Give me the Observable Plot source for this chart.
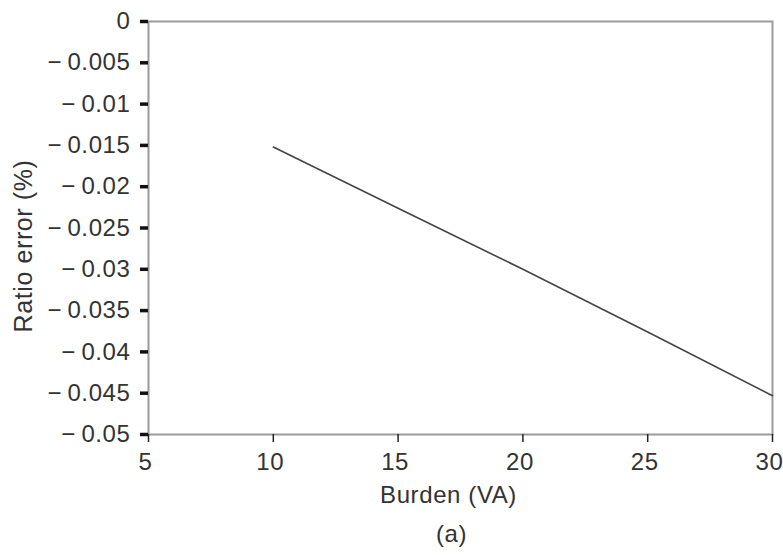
<!DOCTYPE html>
<html><head><meta charset="utf-8">
<script src="https://cdn.jsdelivr.net/npm/d3@7"></script>
<script src="https://cdn.jsdelivr.net/npm/@observablehq/plot@0.6"></script>
<style>body{margin:0;background:#fff} svg{display:block}</style>
</head><body><div id="chart"></div>
<script>
const burden = [10, 15, 20, 25, 30];
const ratioError = [-0.0152, -0.0226, -0.0300, -0.0376, -0.0453];
const xTicks = [5, 10, 15, 20, 25, 30];
const yTicks = [0, -0.005, -0.01, -0.015, -0.02, -0.025, -0.03, -0.035, -0.04, -0.045, -0.05];
const yTickLabels = ["0", "−\u20090.005", "−\u20090.01", "−\u20090.015", "−\u20090.02", "−\u20090.025", "−\u20090.03", "−\u20090.035", "−\u20090.04", "−\u20090.045", "−\u20090.05"];
const xLabel = "Burden (VA)";
const yLabel = "Ratio error (%)";
const caption = "(a)";

const data = burden.map((b, i) => ({burden: b, err: ratioError[i]}));
const font = "'Liberation Sans', Arial, sans-serif";
const fs = 24;
const textColor = "#333";

const chart = Plot.plot({
  width: 783,
  height: 555,
  marginLeft: 148,
  marginRight: 11,
  marginTop: 21,
  marginBottom: 121,
  style: {fontFamily: font, fontSize: fs + "px", color: textColor, background: "#fff", letterSpacing: "0.6px"},
  x: {domain: [5, 30]},
  y: {domain: [-0.05, 0]},
  marks: [
    Plot.frame({stroke: "#9a9a9a", strokeWidth: 2}),
    // tick marks only
    Plot.axisX({ticks: xTicks, tickSize: 8, tickFormat: () => "", stroke: "#222", strokeWidth: 1.5, label: null}),
    // tick labels only, nudged slightly left as in the reference
    Plot.axisX({ticks: xTicks, tickSize: 0, tickPadding: 18, dx: -3, label: null, fontSize: fs, fill: textColor}),
    Plot.axisY({ticks: yTicks, tickFormat: (d) => yTickLabels[yTicks.indexOf(d)], tickSize: 8, tickPadding: 10, stroke: "#111", strokeWidth: 3.5, label: null, fontSize: fs, fill: textColor}),
    Plot.line(data, {x: "burden", y: "err", stroke: "#444", strokeWidth: 1.6}),
    Plot.text([xLabel], {frameAnchor: "bottom", dx: -12, dy: 68, fontSize: fs, fill: textColor}),
    Plot.text([caption], {frameAnchor: "bottom", dx: -9, dy: 107, fontSize: fs, fill: textColor}),
    Plot.text([yLabel], {frameAnchor: "left", textAnchor: "middle", rotate: -90, dx: -125, dy: 18, fontSize: fs + 1, fill: textColor})
  ]
});
document.getElementById("chart").appendChild(chart);
</script>
</body></html>
